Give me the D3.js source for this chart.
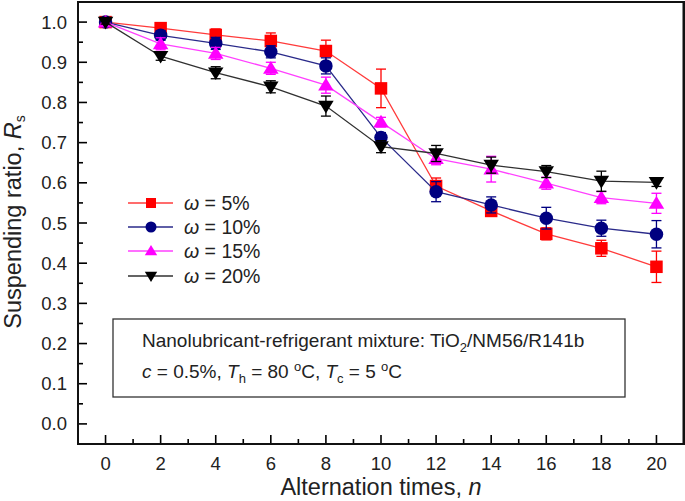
<!DOCTYPE html>
<html><head><meta charset="utf-8">
<script src="https://cdn.jsdelivr.net/npm/d3@7"></script>
<style>body{margin:0;background:#fff}svg{display:block;font-family:"Liberation Sans",Arial,sans-serif}</style>
</head><body><svg id="c" width="685" height="501"></svg>
<script>
const nValues = [0,2,4,6,8,10,12,14,16,18,20];
const seriesNames = ["ω = 5%","ω = 10%","ω = 15%","ω = 20%"];
const w5  = [1.0,0.985,0.968,0.953,0.928,0.835,0.592,0.530,0.473,0.437,0.391];
const w10 = [1.0,0.967,0.947,0.926,0.891,0.713,0.578,0.545,0.512,0.487,0.472];
const w15 = [1.0,0.946,0.922,0.885,0.843,0.751,0.660,0.634,0.599,0.563,0.549];
const w20 = [1.0,0.915,0.874,0.839,0.791,0.690,0.673,0.644,0.628,0.604,0.601];
const e5  = [0.005,0.010,0.015,0.020,0.027,0.048,0.020,0.012,0.015,0.020,0.039];
const e10 = [0.005,0.012,0.015,0.015,0.020,0.012,0.025,0.020,0.027,0.020,0.034];
const e15 = [0.005,0.015,0.015,0.015,0.020,0.012,0.015,0.032,0.015,0.015,0.025];
const e20 = [0.005,0.010,0.015,0.015,0.025,0.015,0.020,0.020,0.015,0.025,0.010];
const xTicks = [0,2,4,6,8,10,12,14,16,18,20];
const yTicks = [0,0.1,0.2,0.3,0.4,0.5,0.6,0.7,0.8,0.9,1.0];

const colors = ["#ff0000","#000080","#ff00ff","#000000"];
const lineColors = ["#ff3b3b","#2a2a8a","#ff40ff","#303030"];
const symbols = ["square","circle","up","down"];
const vals = [w5,w10,w15,w20], errs=[e5,e10,e15,e20];

const svg = d3.select("#c");
const L=78, R=684, T=2, B=444;
const x = d3.scaleLinear().domain([-1,21]).range([L,R]);
const y = d3.scaleLinear().domain([-0.05,1.05]).range([B,T]);

function drawMarker(g, type, cx, cy, s, col){
  if(type==="square") g.append("rect").attr("x",cx-s/2).attr("y",cy-s/2).attr("width",s).attr("height",s).attr("fill",col);
  else if(type==="circle") g.append("circle").attr("cx",cx).attr("cy",cy).attr("r",s/2+0.5).attr("fill",col);
  else if(type==="up"){ const h=s*0.95; g.append("path").attr("d",`M${cx},${cy-h*0.62}L${cx+s*0.62},${cy+h*0.45}L${cx-s*0.62},${cy+h*0.45}Z`).attr("fill",col);}
  else { const h=s*0.95; g.append("path").attr("d",`M${cx},${cy+h*0.62}L${cx+s*0.62},${cy-h*0.45}L${cx-s*0.62},${cy-h*0.45}Z`).attr("fill",col);}
}

// axes ticks
const gx = svg.append("g");
d3.range(0,21,1).forEach(v=>{
  gx.append("line").attr("x1",x(v)).attr("x2",x(v)).attr("y1",B).attr("y2",B-(v%2===0?9:5)).attr("stroke","#000").attr("stroke-width",1.6);
});
xTicks.forEach(v=>{
  gx.append("text").attr("x",x(v)).attr("y",470).attr("text-anchor","middle").attr("font-size",18.5).attr("fill","#222").text(v);
});
const gy = svg.append("g");
d3.range(0,21,1).map(i=>i*0.05).forEach((v,i)=>{
  gy.append("line").attr("x1",L).attr("x2",L+(i%2===0?9:5)).attr("y1",y(v)).attr("y2",y(v)).attr("stroke","#000").attr("stroke-width",1.6);
});
yTicks.forEach(v=>{
  gy.append("text").attr("x",67).attr("y",y(v)+6.5).attr("text-anchor","end").attr("font-size",18.5).attr("fill","#222").text(d3.format(".1f")(v));
});
svg.append("rect").attr("x",L).attr("y",T).attr("width",R-L).attr("height",B-T).attr("fill","none").attr("stroke","#111").attr("stroke-width",2);
svg.append("line").attr("x1",R).attr("x2",R).attr("y1",T).attr("y2",B).attr("stroke","#111").attr("stroke-width",3);

// titles
svg.append("text").attr("x",381).attr("y",495).attr("text-anchor","middle").attr("font-size",23.5).attr("fill","#222")
  .html('Alternation times, <tspan font-style="italic">n</tspan>');
const yt = svg.append("text").attr("transform","translate(21,222) rotate(-90)").attr("text-anchor","middle").attr("font-size",23.5).attr("fill","#222");
yt.append("tspan").text("Suspending ratio, ");
yt.append("tspan").attr("font-style","italic").text("R");
yt.append("tspan").attr("font-size",14).attr("dy",4).text("s");

// series
vals.forEach((vs,si)=>{
  const g = svg.append("g");
  const line = d3.line().x((d,i)=>x(nValues[i])).y(d=>y(d));
  g.append("path").datum(vs).attr("d",line).attr("fill","none").attr("stroke",lineColors[si]).attr("stroke-width",1.3);
  vs.forEach((v,i)=>{
    const e=errs[si][i], cx=x(nValues[i]);
    g.append("line").attr("x1",cx).attr("x2",cx).attr("y1",y(v+e)).attr("y2",y(v-e)).attr("stroke",colors[si]).attr("stroke-width",1.3);
    [v+e,v-e].forEach(t=>g.append("line").attr("x1",cx-5).attr("x2",cx+5).attr("y1",y(t)).attr("y2",y(t)).attr("stroke",colors[si]).attr("stroke-width",1.3));
  });
  vs.forEach((v,i)=>drawMarker(g,symbols[si],x(nValues[i]),y(v),12.5,colors[si]));
});

// legend
const legY=[203,227,251,276];
seriesNames.forEach((nm,i)=>{
  const g=svg.append("g");
  g.append("line").attr("x1",128).attr("x2",173).attr("y1",legY[i]).attr("y2",legY[i]).attr("stroke",lineColors[i]).attr("stroke-width",1.3);
  drawMarker(g,symbols[i],151,legY[i],10,colors[i]);
  const t=g.append("text").attr("x",184).attr("y",legY[i]+7).attr("font-size",19.5).attr("fill","#222");
  t.append("tspan").attr("font-style","italic").text("ω");
  t.append("tspan").text(nm.slice(1));
});

// annotation box
svg.append("rect").attr("x",113).attr("y",319).attr("width",512).attr("height",78).attr("fill","#fff").attr("stroke","#333").attr("stroke-width",1.3);
const fs=19, ss=13;
const a1=svg.append("text").attr("x",142).attr("y",347).attr("font-size",fs).attr("fill","#222");
a1.append("tspan").text("Nanolubricant-refrigerant mixture: TiO");
a1.append("tspan").attr("font-size",ss).attr("dy",5).text("2");
a1.append("tspan").attr("dy",-5).text("/NM56/R141b");
const a2=svg.append("text").attr("x",142).attr("y",378).attr("font-size",fs).attr("fill","#222");
a2.append("tspan").attr("font-style","italic").text("c");
a2.append("tspan").text(" = 0.5%, ");
a2.append("tspan").attr("font-style","italic").text("T");
a2.append("tspan").attr("font-size",ss).attr("dy",5).text("h");
a2.append("tspan").attr("dy",-5).text(" = 80 ");
a2.append("tspan").attr("font-size",ss).attr("dy",-7).text("o");
a2.append("tspan").attr("dy",7).text("C, ");
a2.append("tspan").attr("font-style","italic").text("T");
a2.append("tspan").attr("font-size",ss).attr("dy",5).text("c");
a2.append("tspan").attr("dy",-5).text(" = 5 ");
a2.append("tspan").attr("font-size",ss).attr("dy",-7).text("o");
a2.append("tspan").attr("dy",7).text("C");
</script></body></html>
